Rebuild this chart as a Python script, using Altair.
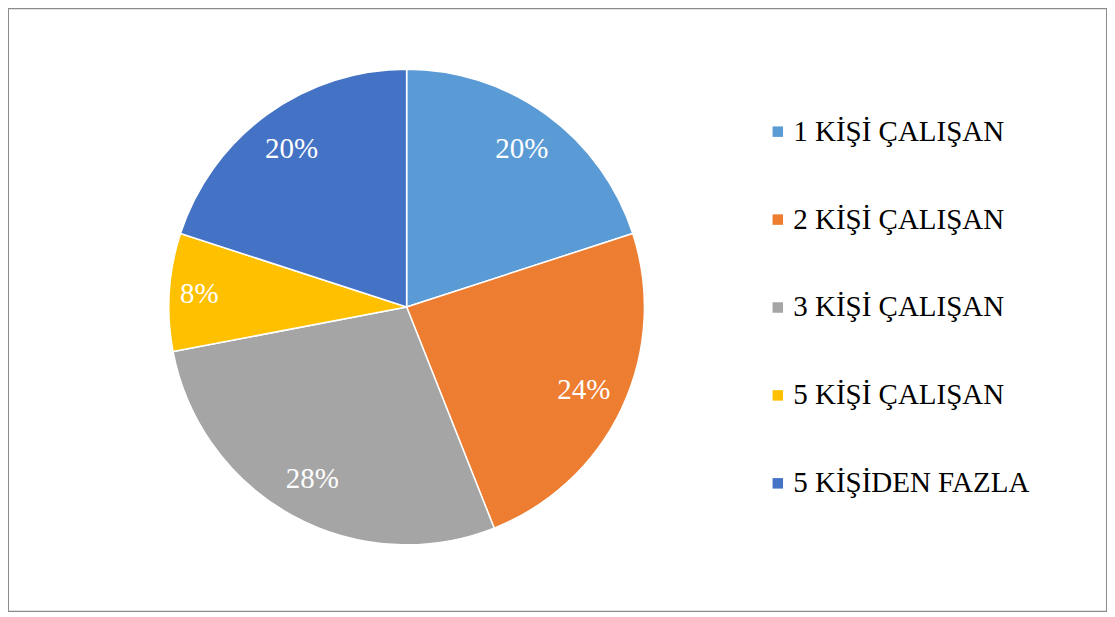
import altair as alt
import pandas as pd

categories = ["1 KİŞİ ÇALIŞAN", "2 KİŞİ ÇALIŞAN", "3 KİŞİ ÇALIŞAN", "5 KİŞİ ÇALIŞAN", "5 KİŞİDEN FAZLA"]
shares = [20, 24, 28, 8, 20]
colors = ["#5B9BD5", "#ED7D31", "#A5A5A5", "#FFC000", "#4472C4"]

df = pd.DataFrame({"kategori": categories, "oran": shares, "sira": list(range(len(categories)))})
df["etiket"] = [f"{v}%" for v in shares]

FONT = "'Liberation Serif', 'Times New Roman', serif"

base = alt.Chart(df).encode(
    theta=alt.Theta("oran:Q", stack=True),
    order=alt.Order("sira:Q", sort="ascending"),
    x=alt.value(399),
    y=alt.value(299),
)

pie = base.mark_arc(radius=238, stroke="white", strokeWidth=1.5).encode(
    color=alt.Color(
        "kategori:N",
        scale=alt.Scale(domain=categories, range=colors),
        sort=categories,
        legend=alt.Legend(
            title=None,
            orient="none",
            legendX=756,
            legendY=109,
            symbolType="square",
            symbolSize=110,
            symbolStrokeWidth=0,
            labelFont=FONT,
            labelFontSize=29,
            labelColor="black",
            labelLimit=400,
            labelOffset=1,
            rowPadding=58,
        ),
    )
)

labels_big = base.mark_text(font=FONT, fontSize=29, color="white", baseline="middle", align="center", radius=196).encode(
    text="etiket:N",
    opacity=alt.condition(alt.datum.oran >= 10, alt.value(1), alt.value(0)),
)
labels_small = base.mark_text(font=FONT, fontSize=29, color="white", baseline="middle", align="center", radius=208).encode(
    text="etiket:N",
    opacity=alt.condition(alt.datum.oran < 10, alt.value(1), alt.value(0)),
)

chart = (
    alt.layer(pie, labels_big, labels_small)
    .properties(width=1100, height=604, autosize=alt.AutoSizeParams(type="none"), padding=0)
    .configure_view(stroke="#8c8c8c", strokeWidth=2)
    .configure_text(font=FONT)
)

chart.save("out.html", embed_options={"renderer": "svg", "actions": False})
